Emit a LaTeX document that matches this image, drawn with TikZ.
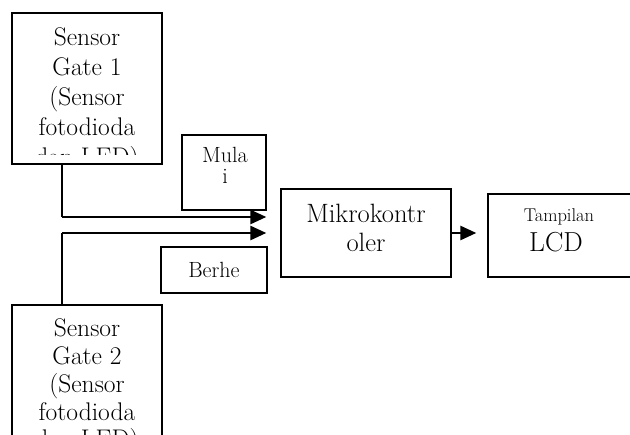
\documentclass[tikz,border=0pt]{standalone}
\usepackage{fontspec}
\usetikzlibrary{arrows.meta}
\begin{document}
\begin{tikzpicture}[x=1pt,y=-1pt,
  box/.style={draw=black,line width=1.3pt,inner sep=0pt,anchor=center},
  txt/.style={inner sep=0pt,anchor=base},
  arr/.style={line width=2.6pt,-{Triangle[length=16pt,width=14pt]}},
  link/.style={line width=2.2pt}]
\clip (0,0) rectangle (630,435);
\fill[white] (0,0) rectangle (630,435);
% boxes
\node[box,minimum width=150pt,minimum height=151pt] (gate1) at (87,88.5) {};
\node[box,minimum width=84pt,minimum height=75pt] (mulai) at (224,172.5) {};
\node[box,minimum width=106pt,minimum height=46pt] (berhe) at (214,270) {};
\node[box,minimum width=170pt,minimum height=88pt] (mikro) at (366,233) {};
\node[box,minimum width=160pt,minimum height=83pt] (lcd) at (568,235.5) {};
\node[box,minimum width=150pt,minimum height=160pt] (gate2) at (87,385) {};
% texts
\begin{scope}
\clip ([shift={(2,2)}]gate1.north west) rectangle ([shift={(-2,-10)}]gate1.south east);
\node[txt] (t1) at (87,45.5) {\parbox[t]{146pt}{\centering\fontsize{25.5}{30}\selectfont Sensor\\Gate 1\\(Sensor\\fotodioda\\dan LED)}};
\end{scope}
\node[txt] (t2) at (87,337) {\parbox[t]{146pt}{\centering\fontsize{25.5}{27.7}\selectfont Sensor\\Gate 2\\(Sensor\\fotodioda\\dan LED)}};
\node[txt] (t3) at (225,163) {\parbox[t]{80pt}{\centering\fontsize{22}{21}\selectfont Mula\\i}};
\node[txt] (t4) at (214,278) {\fontsize{22}{24}\selectfont Berhe};
\node[txt] (t5) at (366,223) {\parbox[t]{166pt}{\centering\fontsize{26.5}{29}\selectfont Mikrokontr\\oler}};
\node[txt] (t6) at (559,222) {\fontsize{18.5}{20}\selectfont Tampilan};
\node[txt] (t7) at (556,252) {\fontsize{27.5}{30}\selectfont LCD};
% connectors
\coordinate (j) at (62,200);
\draw[link] (gate1.south -| j) -- ([yshift=16pt]mikro.west -| j);
\draw[link] (gate2.north -| j) -- (mikro.west -| j);
\draw[arr,shorten >=14pt] ([yshift=16pt]mikro.west -| j) -- ([yshift=16pt]mikro.west);
\draw[arr,shorten >=14pt] (mikro.west -| j) -- (mikro.west);
\draw[arr,shorten >=11pt] (mikro.east) -- (lcd.west |- mikro.east);
\end{tikzpicture}
\end{document}
